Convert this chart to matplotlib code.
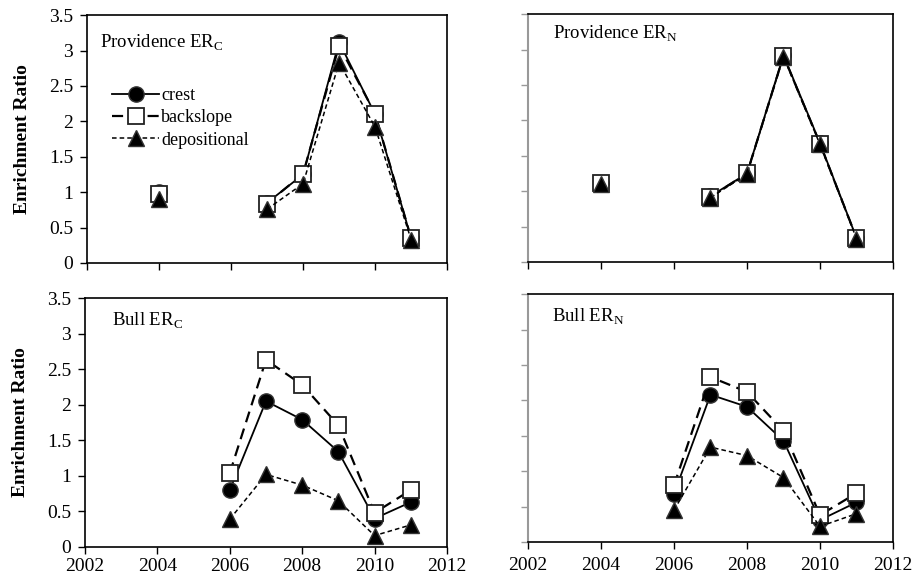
import numpy as np
import matplotlib
matplotlib.use("Agg")
import matplotlib.pyplot as plt

plt.rcParams["font.family"] = ["Liberation Serif", "DejaVu Serif"]

years = [2004, 2005, 2006, 2007, 2008, 2009, 2010, 2011]
nan = np.nan

# Providence, carbon
prov_c_crest = [1.0, nan, nan, 0.85, 1.25, 3.12, 2.10, 0.35]
prov_c_back = [0.98, nan, nan, 0.84, 1.26, 3.07, 2.11, 0.35]
prov_c_depo = [0.90, nan, nan, 0.76, 1.12, 2.83, 1.92, 0.33]

# Providence, nitrogen
prov_n_crest = [1.11, nan, nan, 0.93, 1.25, 2.92, 1.68, 0.34]
prov_n_back = [1.11, nan, nan, 0.92, 1.25, 2.91, 1.67, 0.34]
prov_n_depo = [1.10, nan, nan, 0.91, 1.24, 2.90, 1.66, 0.33]

# Bull, carbon
bull_c_crest = [nan, nan, 0.80, 2.05, 1.79, 1.34, 0.40, 0.63]
bull_c_back = [nan, nan, 1.04, 2.63, 2.28, 1.71, 0.48, 0.80]
bull_c_depo = [nan, nan, 0.39, 1.02, 0.87, 0.65, 0.16, 0.31]

# Bull, nitrogen
bull_n_crest = [nan, nan, 0.68, 2.08, 1.91, 1.43, 0.31, 0.56]
bull_n_back = [nan, nan, 0.80, 2.33, 2.12, 1.57, 0.38, 0.69]
bull_n_depo = [nan, nan, 0.45, 1.34, 1.22, 0.91, 0.22, 0.40]

panels = [
    ("Providence ER$_\\mathregular{C}$", prov_c_crest, prov_c_back, prov_c_depo),
    ("Providence ER$_\\mathregular{N}$", prov_n_crest, prov_n_back, prov_n_depo),
    ("Bull ER$_\\mathregular{C}$", bull_c_crest, bull_c_back, bull_c_depo),
    ("Bull ER$_\\mathregular{N}$", bull_n_crest, bull_n_back, bull_n_depo),
]

boxes = [
    [0.0952, 0.5458, 0.394, 0.428],
    [0.5777, 0.5475, 0.3993, 0.428],
    [0.0930, 0.0553, 0.396, 0.430],
    [0.5777, 0.0639, 0.3993, 0.428],
]
# where each panel name sits, in axes fractions
title_pos = [(0.036, 0.87), (0.068, 0.90), (0.075, 0.89), (0.066, 0.887)]
xlabel_pad = [5, 5, 3, 6]

fig = plt.figure(figsize=(9.14, 5.79), dpi=100)

for i, (title, crest, back, depo) in enumerate(panels):
    ax = fig.add_axes(boxes[i])
    ax.plot(years, crest, color="black", lw=1.3, ls="-", marker="o",
            ms=11, mfc="black", mec="#333333", label="crest", zorder=3)
    ax.plot(years, back, color="black", lw=1.6, ls=(0, (5, 3)), marker="s",
            ms=11, mfc="white", mec="#222222", mew=1.3, label="backslope", zorder=4)
    ax.plot(years, depo, color="black", lw=1.1, ls=(0, (3, 2)), marker="^",
            ms=11, mfc="black", mec="#333333", label="depositional", zorder=5)

    ax.set_xlim(2002, 2012)
    ax.set_ylim(0, 3.5)
    ax.set_xticks(np.arange(2002, 2013, 2))
    ax.set_yticks(np.arange(0, 3.51, 0.5))
    ax.set_yticklabels(["0", "0.5", "1", "1.5", "2", "2.5", "3", "3.5"])
    ax.tick_params(direction="out", length=5, width=1, labelsize=14)
    ax.tick_params(axis="x", pad=xlabel_pad[i])
    ax.tick_params(axis="y", pad=5)

    tx, ty = title_pos[i]
    ax.text(tx, ty, title, transform=ax.transAxes, fontsize=13.5)

    for s in ax.spines.values():
        s.set_color("black")
        s.set_linewidth(1.2)

    if i < 2:
        ax.tick_params(labelbottom=False)
    if i % 2 == 1:
        ax.tick_params(labelleft=False, axis="y", color="#999999")
        ax.spines["left"].set_color("#999999")
        ax.spines["left"].set_linewidth(1.5)
    else:
        ax.set_ylabel("Enrichment Ratio", fontsize=14, fontweight="bold",
                      labelpad=13)
    if i == 0:
        ax.legend(loc="upper left", bbox_to_anchor=(0.06, 0.725), frameon=False,
                  fontsize=13, handlelength=2.6, handletextpad=0.1,
                  labelspacing=0.3, borderaxespad=0, borderpad=0.2)

fig.savefig("out.png", dpi=100)
